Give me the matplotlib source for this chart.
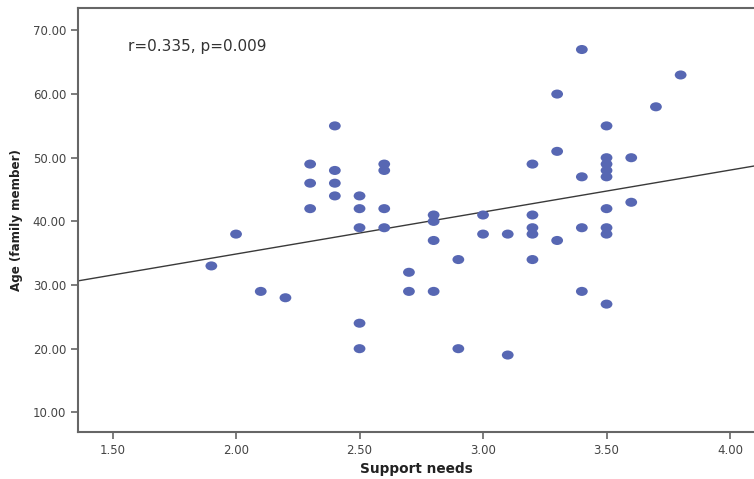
import numpy as np
import matplotlib
matplotlib.use("Agg")
import matplotlib.pyplot as plt
from matplotlib.path import Path
from matplotlib.ticker import FormatStrFormatter

# Support needs (x) and age of family member (y)
support = [1.9, 2.0, 2.1, 2.2,
           2.3, 2.3, 2.3,
           2.4, 2.4, 2.4, 2.4,
           2.5, 2.5, 2.5, 2.5, 2.5,
           2.6, 2.6, 2.6, 2.6,
           2.7, 2.7,
           2.8, 2.8, 2.8, 2.8,
           2.9, 2.9,
           3.0, 3.0,
           3.1, 3.1,
           3.2, 3.2, 3.2, 3.2, 3.2,
           3.3, 3.3, 3.3,
           3.4, 3.4, 3.4, 3.4,
           3.5, 3.5, 3.5, 3.5, 3.5, 3.5, 3.5, 3.5, 3.5,
           3.6, 3.6,
           3.7, 3.8]
age = [33, 38, 29, 28,
       49, 46, 42,
       55, 48, 46, 44,
       44, 42, 39, 24, 20,
       49, 48, 42, 39,
       32, 29,
       41, 40, 37, 29,
       34, 20,
       41, 38,
       38, 19,
       49, 41, 39, 38, 34,
       60, 51, 37,
       67, 47, 39, 29,
       55, 50, 49, 48, 47, 42, 39, 38, 27,
       50, 43,
       58, 63]

x_ticks = [1.5, 2.0, 2.5, 3.0, 3.5, 4.0]
y_ticks = [10, 20, 30, 40, 50, 60, 70]
stats_text = "r=0.335, p=0.009"

# slightly flattened dot, like the SPSS markers
circ = Path.unit_circle()
ellipse = Path(circ.vertices * np.array([1.3, 1.0]), circ.codes)

fig = plt.figure(figsize=(7.54, 4.79), dpi=100)
# axes runs off the right edge of the image, as in the original crop
ax = fig.add_axes([0.1034, 0.098, 0.8966, 0.885])

ax.scatter(support, age, s=72, marker=ellipse, color="#5767b3",
           edgecolors="none", zorder=3)

# least squares fit line across the whole axis
xlim = (1.36, 4.097)
slope, icpt = np.polyfit(support, age, 1)
xs = np.array(xlim)
ax.plot(xs, slope * xs + icpt, color="#3a3a3a", lw=1.0, zorder=2)

ax.set_xlim(*xlim)
ax.set_ylim(6.9, 73.5)
ax.set_xticks(x_ticks)
ax.set_yticks(y_ticks)
ax.xaxis.set_major_formatter(FormatStrFormatter("%.2f"))
ax.yaxis.set_major_formatter(FormatStrFormatter("%.2f"))

for side in ["left", "bottom", "top"]:
    ax.spines[side].set_color("#666666")
    ax.spines[side].set_linewidth(1.5)
ax.spines["right"].set_visible(False)
ax.tick_params(direction="out", length=5, width=1.2, color="#666666",
               labelsize=8.5, labelcolor="#444444")

ax.set_xlabel("Support needs", fontsize=9.8, fontweight="bold",
              color="#222222", labelpad=4)
ax.set_ylabel("Age (family member)", fontsize=8.6, fontweight="bold",
              color="#222222", labelpad=7)

ax.text(0.074, 0.91, stats_text, transform=ax.transAxes, fontsize=11,
        color="#333333", va="center", ha="left")

fig.savefig("out.png", dpi=100)
